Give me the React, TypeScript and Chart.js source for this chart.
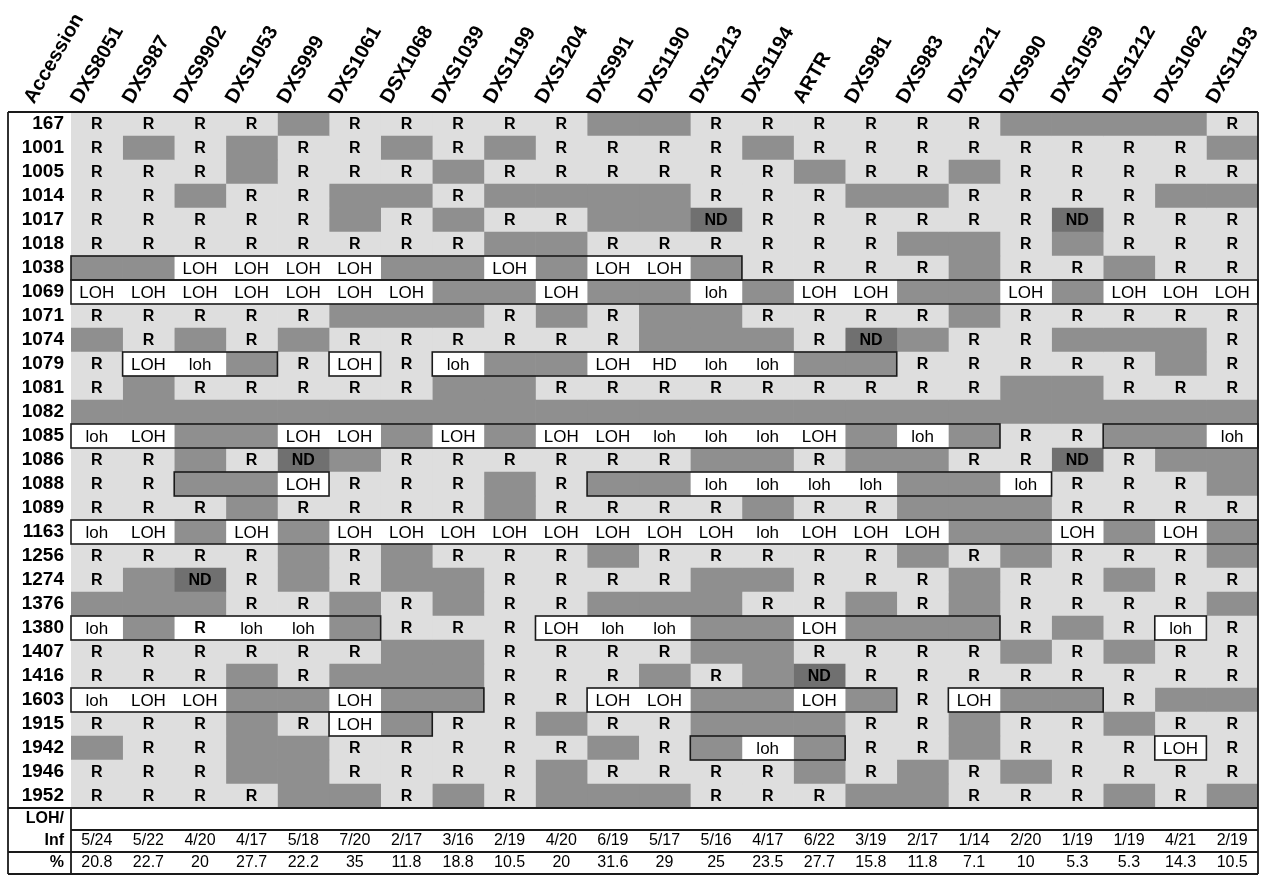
import { useEffect, useRef } from "react";
import { Chart, registerables } from "chart.js";

Chart.register(...registerables);

const markers = [
  "DXS8051", "DXS987", "DXS9902", "DXS1053", "DXS999", "DXS1061", "DSX1068",
  "DXS1039", "DXS1199", "DXS1204", "DXS991", "DXS1190", "DXS1213", "DXS1194",
  "ARTR", "DXS981", "DXS983", "DXS1221", "DXS990", "DXS1059", "DXS1212",
  "DXS1062", "DXS1193",
];

const accessions = [
  "167", "1001", "1005", "1014", "1017", "1018", "1038", "1069", "1071", "1074",
  "1079", "1081", "1082", "1085", "1086", "1088", "1089", "1163", "1256", "1274",
  "1376", "1380", "1407", "1416", "1603", "1915", "1942", "1946", "1952",
];

// R = retained (informative), . = uninformative, ND = not done,
// LOH / loh = loss of heterozygosity, HD = homozygous deletion, Rw = retained (white cell)
const calls = [
  "R R R R . R R R R R . . R R R R R R . . . . R",
  "R . R . R R . R . R R R R . R R R R R R R R .",
  "R R R . R R R . R R R R R R . R R . R R R R R",
  "R R . R R . . R . . . . R R R . . R R R R . .",
  "R R R R R . R . R R . . ND R R R R R R ND R R R",
  "R R R R R R R R . . R R R R R R . . R . R R R",
  ". . LOH LOH LOH LOH . . LOH . LOH LOH . R R R R . R R . R R",
  "LOH LOH LOH LOH LOH LOH LOH . . LOH . . loh . LOH LOH . . LOH . LOH LOH LOH",
  "R R R R R . . . R . R . . R R R R . R R R R R",
  ". R . R . R R R R R R . . . R ND . R R . . . R",
  "R LOH loh . R LOH R loh . . LOH HD loh loh . . R R R R R . R",
  "R . R R R R R . . R R R R R R R R R . . R R R",
  ". . . . . . . . . . . . . . . . . . . . . . .",
  "loh LOH . . LOH LOH . LOH . LOH LOH loh loh loh LOH . loh . R R . . loh",
  "R R . R ND . R R R R R R . . R . . R R ND R . .",
  "R R . . LOH R R R . R . . loh loh loh loh . . loh R R R .",
  "R R R . R R R R . R R R R . R R . . . R R R R",
  "loh LOH . LOH . LOH LOH LOH LOH LOH LOH LOH LOH loh LOH LOH LOH . . LOH . LOH .",
  "R R R R . R . R R R . R R R R R . R . R R R .",
  "R . ND R . R . . R R R R . . R R R . R R . R R",
  ". . . R R . R . R R . . . R R . R . R R R R .",
  "loh . Rw loh loh . R R R LOH loh loh . . LOH . . . R . R loh R",
  "R R R R R R . . R R R R . . R R R R . R . R R",
  "R R R . R . . . R R R . R . ND R R R R R R R R",
  "loh LOH LOH . . LOH . . R R LOH LOH . . LOH . R LOH . . R . .",
  "R R R . R LOH . R R . R R . . . R R . R R . R R",
  ". R R . . R R R R R . R . loh . R R . R R R LOH R",
  "R R R . . R R R R . R R R R . R . R . R R R R",
  "R R R R . . R . R . . . R R R . . R R R . R .",
];

// outlined regions: [accession, first marker index, last marker index]
const boxes: [string, number, number][] = [
  ["1038", 0, 12],
  ["1069", 0, 22],
  ["1079", 1, 3],
  ["1079", 5, 5],
  ["1079", 7, 15],
  ["1085", 0, 17],
  ["1085", 20, 22],
  ["1088", 2, 4],
  ["1088", 10, 18],
  ["1163", 0, 22],
  ["1380", 0, 5],
  ["1380", 9, 17],
  ["1380", 21, 21],
  ["1603", 0, 7],
  ["1603", 10, 15],
  ["1603", 17, 19],
  ["1915", 5, 6],
  ["1942", 12, 14],
  ["1942", 21, 21],
];

const lohInf = [
  "5/24", "5/22", "4/20", "4/17", "5/18", "7/20", "2/17", "3/16", "2/19", "4/20",
  "6/19", "5/17", "5/16", "4/17", "6/22", "3/19", "2/17", "1/14", "2/20", "1/19",
  "1/19", "4/21", "2/19",
];

const percent = [
  "20.8", "22.7", "20", "27.7", "22.2", "35", "11.8", "18.8", "10.5", "20",
  "31.6", "29", "25", "23.5", "27.7", "15.8", "11.8", "7.1", "10", "5.3",
  "5.3", "14.3", "10.5",
];

const FONT = '"Liberation Sans", Arial, Helvetica, sans-serif';
const LIGHT = "#dedede";
const DARK = "#8f8f8f";
const NDC = "#707070";
const WHITE = "#ffffff";
const LINE = "#1a1a1a";
const ROT = 60;
const HEAD_SIZE = 20;

const grid = calls.map((s) => s.trim().split(/\s+/));

function cellColor(v: string): string {
  if (v === "R") return LIGHT;
  if (v === ".") return DARK;
  if (v === "ND") return NDC;
  return WHITE;
}

function cellText(v: string): string {
  if (v === ".") return "";
  if (v === "Rw") return "R";
  return v;
}

function cellFont(v: string): string {
  if (v === "R" || v === "Rw") return `bold 16px ${FONT}`;
  if (v === "ND") return `bold 16px ${FONT}`;
  return `17px ${FONT}`;
}

const tablePlugin = {
  id: "tablePlugin",
  afterDatasetsDraw(chart: any) {
    const ctx = chart.ctx as CanvasRenderingContext2D;
    const xs = chart.scales.x;
    const ys = chart.scales.y;
    const area = chart.chartArea;
    const rowH = ys.getPixelForValue(1) - ys.getPixelForValue(0);
    const leftEdge = 8;
    const gridLeft = area.left;
    const right = area.right;
    const top = area.top;
    const bodyBottom = area.bottom;
    const lohLine = bodyBottom + 22;
    const pctLine = bodyBottom + 44;
    const bottom = bodyBottom + 66;

    ctx.save();
    // cell texts
    ctx.textAlign = "center";
    ctx.textBaseline = "middle";
    ctx.fillStyle = "#000";
    grid.forEach((row, i) => {
      const y = ys.getPixelForValue(i) + 1;
      row.forEach((v, j) => {
        const t = cellText(v);
        if (!t) return;
        ctx.font = cellFont(v);
        ctx.fillText(t, xs.getPixelForValue(j + 0.5), y);
      });
    });

    // outlined regions
    ctx.strokeStyle = LINE;
    ctx.lineWidth = 1.6;
    boxes.forEach(([acc, c0, c1]) => {
      const i = accessions.indexOf(acc);
      const yc = ys.getPixelForValue(i);
      const x0 = xs.getPixelForValue(c0);
      const x1 = xs.getPixelForValue(c1 + 1);
      ctx.strokeRect(x0, yc - rowH / 2, x1 - x0, rowH);
    });

    // table frame
    ctx.lineWidth = 1.8;
    const line = (x0: number, y0: number, x1: number, y1: number) => {
      ctx.beginPath();
      ctx.moveTo(x0, y0);
      ctx.lineTo(x1, y1);
      ctx.stroke();
    };
    line(leftEdge, top, right, top);
    line(leftEdge, top, leftEdge, bottom);
    line(right, top, right, bottom);
    line(leftEdge, bottom, right, bottom);
    line(leftEdge, bodyBottom, right, bodyBottom);
    line(gridLeft, lohLine, right, lohLine);
    line(leftEdge, pctLine, right, pctLine);
    line(gridLeft, bodyBottom, gridLeft, bottom);

    // footer labels
    const labelX = gridLeft - 7;
    ctx.textAlign = "right";
    ctx.font = `bold 16px ${FONT}`;
    ctx.fillText("LOH/", labelX, bodyBottom + 11);
    ctx.fillText("Inf", labelX, lohLine + 11);
    ctx.fillText("%", labelX, pctLine + 11);

    ctx.textAlign = "center";
    ctx.font = `16px ${FONT}`;
    lohInf.forEach((t, j) => ctx.fillText(t, xs.getPixelForValue(j + 0.5), lohLine + 11));
    percent.forEach((t, j) => ctx.fillText(t, xs.getPixelForValue(j + 0.5), pctLine + 11));

    // "Accession" column heading
    ctx.font = `bold ${HEAD_SIZE}px ${FONT}`;
    ctx.translate((leftEdge + gridLeft) / 2, top - 4);
    ctx.rotate((-ROT * Math.PI) / 180);
    ctx.textAlign = "left";
    ctx.textBaseline = "middle";
    ctx.fillText("Accession", 0, -HEAD_SIZE * 0.6);
    ctx.restore();
  },
};

export default function App() {
  const ref = useRef<HTMLCanvasElement | null>(null);

  useEffect(() => {
    document.body.style.margin = "0";
    const canvas = ref.current;
    if (!canvas) return;
    const chart = new Chart(canvas, {
      type: "bar",
      data: {
        labels: accessions,
        datasets: markers.map((m, j) => ({
          label: m,
          data: accessions.map(() => 1),
          backgroundColor: (c: any) => cellColor(grid[c.dataIndex][j]),
          borderWidth: 0,
          barPercentage: 1,
          categoryPercentage: 1,
          xAxisID: "x",
          yAxisID: "y",
        })),
      },
      options: {
        indexAxis: "y",
        responsive: false,
        maintainAspectRatio: false,
        animation: false,
        layout: { padding: { left: 8, right: 30, top: 0, bottom: 70 } },
        plugins: { legend: { display: false }, tooltip: { enabled: false } },
        scales: {
          x: { type: "linear", stacked: true, min: 0, max: 23, display: false },
          xTop: {
            type: "category",
            labels: markers,
            position: "top",
            offset: true,
            grid: { display: false, drawTicks: false },
            border: { display: false },
            ticks: {
              autoSkip: false,
              minRotation: ROT,
              maxRotation: ROT,
              padding: 4,
              color: "#000",
              font: { family: FONT, size: HEAD_SIZE, weight: "bold" },
            },
            afterFit: (s: any) => {
              s.height = 112;
            },
          },
          y: {
            type: "category",
            stacked: true,
            grid: { display: false, drawTicks: false },
            border: { display: false },
            ticks: {
              autoSkip: false,
              padding: 7,
              color: "#000",
              font: { family: FONT, size: 19, weight: "bold" },
            },
            afterFit: (s: any) => {
              s.width = 63;
            },
          },
        } as any,
      },
      plugins: [tablePlugin],
    } as any);
    return () => chart.destroy();
  }, []);

  return (
    <div style={{ width: 1288, height: 878 }}>
      <canvas ref={ref} width={1288} height={878} />
    </div>
  );
}
